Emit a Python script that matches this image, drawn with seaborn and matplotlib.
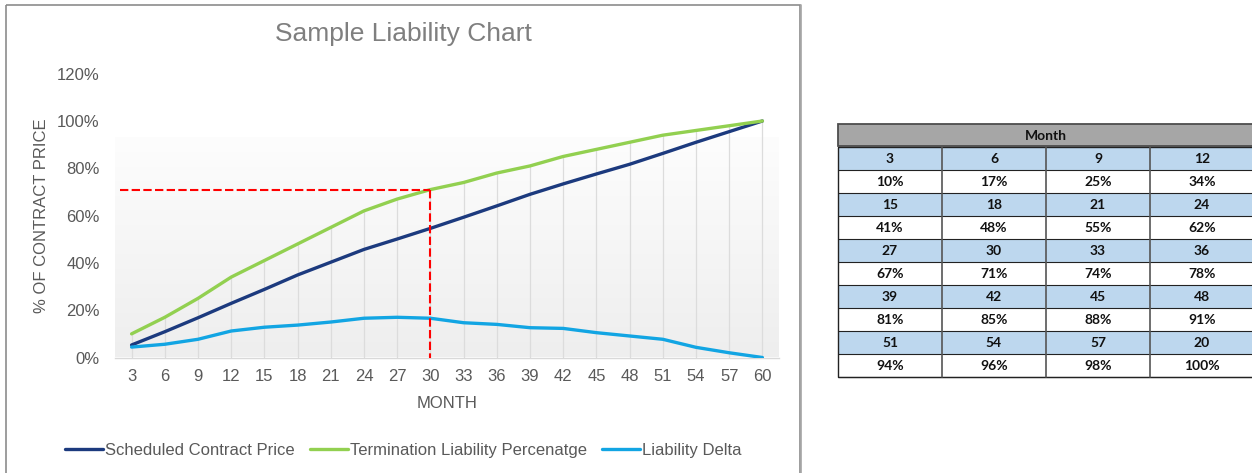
import numpy as np
import pandas as pd
import matplotlib
matplotlib.use("Agg")
import matplotlib.pyplot as plt
import seaborn as sns
from matplotlib.patches import Rectangle
from matplotlib.colors import LinearSegmentedColormap

# ---------------- data ----------------
months = [3, 6, 9, 12, 15, 18, 21, 24, 27, 30, 33, 36, 39, 42, 45, 48, 51, 54, 57, 60]
scheduled = [5.3, 10.9, 16.8, 22.9, 28.8, 34.9, 40.3, 45.7, 50.1, 54.6,
             59.3, 64.1, 69.0, 73.4, 77.6, 81.7, 86.3, 91.0, 95.5, 100.0]
termination = [10, 17, 25, 34, 41, 48, 55, 62, 67, 71,
               74, 78, 81, 85, 88, 91, 94, 96, 98, 100]
delta = [4.4, 5.6, 7.7, 11.2, 12.8, 13.7, 15.0, 16.6, 17.0, 16.6,
         14.7, 14.0, 12.6, 12.3, 10.5, 9.1, 7.7, 4.3, 2.0, 0.0]
series_names = ["Scheduled Contract Price", "Termination Liability Percenatge", "Liability Delta"]
y_ticks = [0, 20, 40, 60, 80, 100, 120]
highlight_month = 30

table_header = "Month"
table_months = ["3", "6", "9", "12", "15", "18", "21", "24", "27", "30",
                "33", "36", "39", "42", "45", "48", "51", "54", "57", "20"]
table_values = [f"{v}%" for v in termination]

colors = {series_names[0]: "#1C3A7E", series_names[1]: "#92D050", series_names[2]: "#12A5E3"}

# ---------------- figure ----------------
sns.set_theme(style="white")
plt.rcParams["font.family"] = ["Liberation Sans", "DejaVu Sans"]

W, H = 1252, 473
fig = plt.figure(figsize=(W / 100, H / 100), dpi=100)
fig.patch.set_facecolor("white")

bg = fig.add_axes([0, 0, 1, 1], zorder=-1)
bg.set_xlim(0, W)
bg.set_ylim(H, 0)
bg.axis("off")

ax_l, ax_r, ax_top, ax_bot = 115, 779, 73.7, 357.5
ax = fig.add_axes([ax_l / W, (H - ax_bot) / H, (ax_r - ax_l) / W, (ax_bot - ax_top) / H])
ax.set_facecolor("none")

pos = np.arange(len(months))
df = pd.DataFrame({
    "pos": np.tile(pos, 3),
    "value": np.concatenate([scheduled, termination, delta]),
    "series": np.repeat(series_names, len(months)),
})

# gradient plot-area fill
cmap = LinearSegmentedColormap.from_list("g", ["#EEEEEE", "#FDFDFD"])
ax.imshow(np.linspace(0, 1, 256).reshape(-1, 1), cmap=cmap, origin="lower",
          extent=(-0.5, len(months) - 0.5, 0, 93), aspect="auto", zorder=0)

# drop lines
ax.vlines(pos, 0, termination, color="#DCDCDC", lw=0.9, zorder=1)

sns.lineplot(data=df, x="pos", y="value", hue="series", palette=colors,
             hue_order=series_names, lw=2.4, sort=False, ax=ax, zorder=3)

handles, labels = ax.get_legend_handles_labels()
if ax.get_legend() is not None:
    ax.get_legend().remove()

# red dashed reference lines
idx = months.index(highlight_month)
lvl = termination[idx]
ax.plot([-0.35, idx], [lvl, lvl], color="#FF0000", lw=1.5, dashes=(4, 1.6), zorder=5)
ax.plot([idx, idx], [lvl, 0], color="#FF0000", lw=1.5, dashes=(4, 1.6), zorder=5)

ax.set_xlim(-0.5, len(months) - 0.5)
ax.set_ylim(0, 120)
ax.set_xticks(pos)
ax.set_xticklabels([str(m) for m in months])
ax.set_yticks(y_ticks)
ax.set_yticklabels([f"{t}%" for t in y_ticks])
ax.tick_params(axis="x", length=0, pad=8, labelsize=12, labelcolor="#595959")
ax.tick_params(axis="y", length=0, pad=11, labelsize=12, labelcolor="#595959")
for s in ["top", "left", "right"]:
    ax.spines[s].set_visible(False)
ax.spines["bottom"].set_color("#D9D9D9")
ax.spines["bottom"].set_linewidth(1.0)
ax.grid(False)

ax.set_xlabel("MONTH", fontsize=12, color="#595959")
ax.set_ylabel("% OF CONTRACT PRICE", fontsize=12, color="#595959")
ax.xaxis.set_label_coords(0.5, (ax_bot - 403) / (ax_bot - ax_top))
ax.xaxis.label.set_va("center")
ax.yaxis.set_label_coords((41.7 - ax_l) / (ax_r - ax_l), 0.5)
ax.yaxis.label.set_va("center")

fig.text(403 / W, 1 - 34.5 / H, "Sample Liability Chart", ha="center", va="center",
         fontsize=19, color="#7F7F7F")

fig.legend(handles, labels, loc="center", bbox_to_anchor=(403 / W, 1 - 450 / H),
           ncol=3, frameon=False, fontsize=12, handlelength=2.3, handletextpad=0.1,
           columnspacing=0.9, labelcolor="#595959")

# chart border
bg.add_patch(Rectangle((6, 5), 794, 480, fill=False, ec="#8C8C8C", lw=1.2))
bg.plot([801, 801], [5, 480], color="#A6A6A6", lw=1.2)

# ---------------- table ----------------
tx0, tx1 = 838, 1254
ncol = 4
cw = (tx1 - tx0) / ncol
hy0, hy1 = 124.3, 146.5
rh = (376.7 - hy1) / 10
tfont = dict(family="Lato", fontweight="bold", fontsize=10, color="#111111")

bg.add_patch(Rectangle((tx0, hy0), tx1 - tx0, hy1 - hy0, fc="#A6A6A6", ec="#4D4D4D", lw=1.3))
bg.text((tx0 + tx1) / 2, (hy0 + hy1) / 2 + 0.5, table_header, ha="center", va="center", **tfont)

nrow_groups = len(table_months) // ncol
for g in range(nrow_groups):
    for kind in range(2):
        r = 2 * g + kind
        y0 = hy1 + r * rh
        fc = "#BDD7EE" if kind == 0 else "white"
        bg.add_patch(Rectangle((tx0, y0), tx1 - tx0, rh, fc=fc, ec="none"))
        for c in range(ncol):
            i = g * ncol + c
            txt = table_months[i] if kind == 0 else table_values[i]
            bg.text(tx0 + (c + 0.5) * cw, y0 + rh / 2 + 0.5, txt, ha="center", va="center", **tfont)
        bg.plot([tx0, tx1], [y0 + rh, y0 + rh], color="#222222", lw=0.8)
ty_end = hy1 + 10 * rh
for c in range(1, ncol):
    bg.plot([tx0 + c * cw] * 2, [hy1, ty_end], color="#555555", lw=1.2)
bg.add_patch(Rectangle((tx0, hy1), tx1 - tx0, ty_end - hy1, fill=False, ec="#222222", lw=1.0))

fig.savefig("out.png", dpi=100, facecolor="white")
